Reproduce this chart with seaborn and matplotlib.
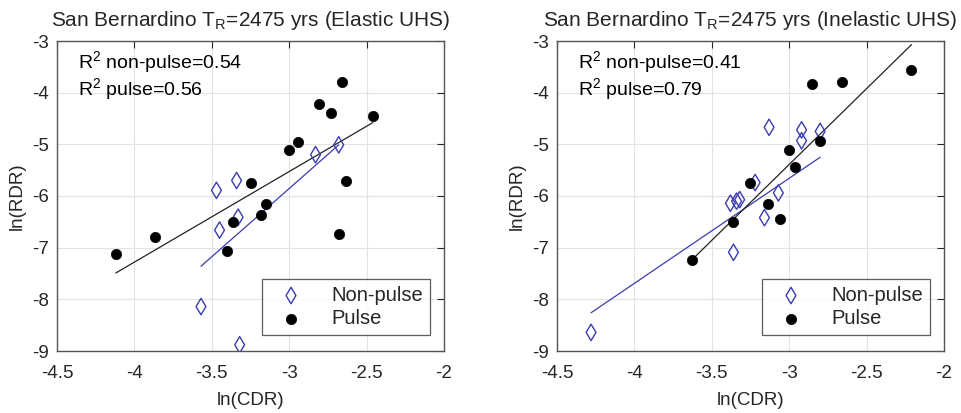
import numpy as np
import pandas as pd
import matplotlib
matplotlib.use("Agg")
import matplotlib.pyplot as plt
import seaborn as sns

# ---- data ----
# Elastic UHS
el_np_x = [-2.68, -2.83, -3.34, -3.47, -3.33, -3.45, -3.57, -3.32]
el_np_y = [-5.01, -5.20, -5.70, -5.89, -6.41, -6.66, -8.14, -8.88]
el_p_x = [-2.66, -2.81, -2.73, -2.46, -2.94, -3.00, -2.63, -3.25, -3.15, -3.18,
          -3.36, -2.68, -3.40, -3.87, -4.12]
el_p_y = [-3.79, -4.22, -4.40, -4.45, -4.95, -5.11, -5.71, -5.74, -6.16, -6.37,
          -6.50, -6.73, -7.07, -6.80, -7.13]
# Inelastic UHS
in_np_x = [-3.13, -2.92, -2.80, -2.92, -3.22, -3.07, -3.38, -3.34, -3.32, -3.16,
           -3.36, -4.28]
in_np_y = [-4.67, -4.72, -4.75, -4.93, -5.74, -5.94, -6.14, -6.10, -6.07, -6.42,
           -7.09, -8.64]
in_p_x = [-2.21, -2.66, -2.85, -2.80, -3.00, -2.96, -3.25, -3.14, -3.06, -3.36, -3.63]
in_p_y = [-3.57, -3.79, -3.84, -4.93, -5.11, -5.44, -5.74, -6.16, -6.44, -6.50, -7.24]

# fitted regression lines (end points)
el_fit_np_x = [-3.57, -2.68]
el_fit_np_y = [-7.36, -5.01]
el_fit_p_x = [-4.12, -2.46]
el_fit_p_y = [-7.49, -4.58]
in_fit_np_x = [-4.28, -2.80]
in_fit_np_y = [-8.26, -5.25]
in_fit_p_x = [-3.63, -2.21]
in_fit_p_y = [-7.24, -3.07]

titles = ["San Bernardino T$_\\mathregular{R}$=2475 yrs (Elastic UHS)",
          "San Bernardino T$_\\mathregular{R}$=2475 yrs (Inelastic UHS)"]
r2_np = ["0.54", "0.41"]
r2_p = ["0.56", "0.79"]
xticks = [-4.5, -4, -3.5, -3, -2.5, -2]
yticks = [-9, -8, -7, -6, -5, -4, -3]

sns.set_theme(style="white")
plt.rcParams["font.family"] = ["Liberation Sans", "DejaVu Sans"]
plt.rcParams["mathtext.fontset"] = "custom"
plt.rcParams["mathtext.rm"] = "Liberation Sans"

BLUE = "#3a3cb0"
AXC = "#262626"
FS = 13.5

fig = plt.figure(figsize=(9.62, 4.13), dpi=100)
axes = [fig.add_axes([57/962, 62/413, 387/962, 310/413]),
        fig.add_axes([557/962, 62/413, 387/962, 310/413])]

sets = [(el_np_x, el_np_y, el_p_x, el_p_y), (in_np_x, in_np_y, in_p_x, in_p_y)]
fits = [(el_fit_np_x, el_fit_np_y, el_fit_p_x, el_fit_p_y),
        (in_fit_np_x, in_fit_np_y, in_fit_p_x, in_fit_p_y)]

for i, ax in enumerate(axes):
    npx, npy, px, py = sets[i]
    fnx, fny, fpx, fpy = fits[i]
    dnp = pd.DataFrame({"x": npx, "y": npy})
    dp = pd.DataFrame({"x": px, "y": py})
    ax.grid(True, color="#e3e3e3", linewidth=0.8, zorder=0)
    ax.set_axisbelow(True)
    sns.lineplot(x=fnx, y=fny, ax=ax, color=BLUE, lw=0.9, zorder=2)
    sns.lineplot(x=fpx, y=fpy, ax=ax, color="#222222", lw=0.9, zorder=2)
    sns.scatterplot(data=dnp, x="x", y="y", ax=ax, marker="d", s=70,
                    facecolor="none", edgecolor=BLUE, linewidth=1.0, zorder=3,
                    label="Non-pulse")
    sns.scatterplot(data=dp, x="x", y="y", ax=ax, marker="o", s=55,
                    color="black", edgecolor="black", linewidth=0.5, zorder=4,
                    label="Pulse")
    ax.set_xlim(-4.5, -2)
    ax.set_ylim(-9, -3)
    ax.set_xticks(xticks)
    ax.set_yticks(yticks)
    ax.set_xticklabels([f"{t:g}" for t in xticks])
    ax.set_yticklabels([f"{t:g}" for t in yticks])
    ax.tick_params(direction="in", length=5, width=0.8, top=True, right=True,
                   labelsize=FS, colors=AXC)
    ax.tick_params(axis="x", pad=10)
    ax.tick_params(axis="y", pad=6)
    for s in ax.spines.values():
        s.set_color("#555555")
        s.set_linewidth(1.0)
        s.set_visible(True)
    ax.set_xlabel("ln(CDR)", fontsize=FS, color=AXC, labelpad=7)
    ax.set_ylabel("ln(RDR)", fontsize=FS, color=AXC, labelpad=4)
    ax.set_title(titles[i], fontsize=15, color=AXC, pad=11)
    ax.text(0.054, 0.929, "R$^\\mathregular{2}$ non-pulse=" + r2_np[i], transform=ax.transAxes,
            fontsize=14, color="black", va="center", ha="left")
    ax.text(0.054, 0.842, "R$^\\mathregular{2}$ pulse=" + r2_p[i], transform=ax.transAxes,
            fontsize=14, color="black", va="center", ha="left")
    leg = ax.legend(loc="lower right", bbox_to_anchor=(0.964, 0.052), fontsize=14.5,
                    frameon=True, fancybox=False, edgecolor="#333333",
                    borderpad=0.35, handletextpad=0.9, labelspacing=0.2,
                    handlelength=2.2, borderaxespad=0)
    leg.get_frame().set_linewidth(0.9)

fig.savefig("out.png", dpi=100)
